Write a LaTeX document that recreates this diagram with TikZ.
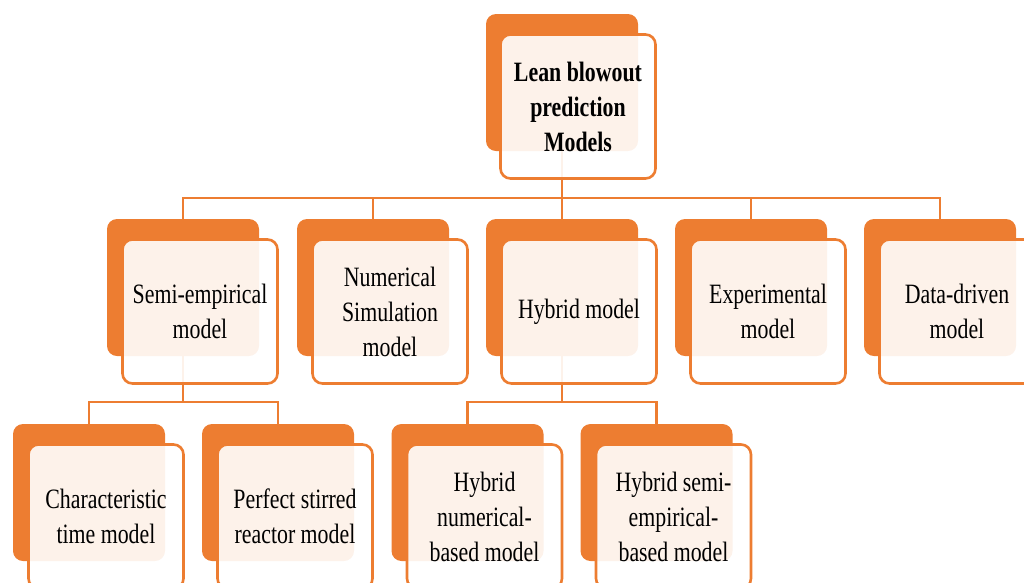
\documentclass[tikz,border=0pt]{standalone}
\usepackage{fontspec}
\setmainfont[FakeStretch=0.78]{Liberation Serif}
\definecolor{org}{HTML}{ED7D31}
\begin{document}
\begin{tikzpicture}[x=1pt,y=-1pt,
  back/.style={rectangle, rounded corners=10pt, fill=org, minimum width=152pt, minimum height=137pt, inner sep=0pt},
  front/.style={rectangle, rounded corners=10pt, draw=org, line width=2.6pt, fill=white, fill opacity=0.9, text opacity=1,
    minimum width=155pt, minimum height=144pt, align=center, font=\fontsize{28}{35}\selectfont, inner sep=0pt},
  conn/.style={draw=org, line width=2.6pt}]
\useasboundingbox (0,0) rectangle (1024,582);
\clip (0,0) rectangle (1024,582);
% back boxes
\node[back] (top-b) at (562,82.5) {};
\node[back] (semi-b) at (183,287.5) {};
\node[back] (num-b) at (373,287.5) {};
\node[back] (hyb-b) at (562,287.5) {};
\node[back] (exp-b) at (751,287.5) {};
\node[back] (data-b) at (940,287.5) {};
\node[back] (char-b) at (89,492.5) {};
\node[back] (psr-b) at (278,492.5) {};
\node[back] (hnum-b) at (467.5,492.5) {};
\node[back] (hsemi-b) at (656.5,492.5) {};
% connectors
\coordinate (bus1) at (562,198);
\coordinate (bus2) at (183,402);
\coordinate (bus3) at (562,402);
\draw[conn] (top-b.south) -- (bus1);
\draw[conn] (semi-b.north) |- (bus1) -| (data-b.north);
\draw[conn] (num-b.north) -- (num-b.north |- bus1);
\draw[conn] (hyb-b.north) -- (hyb-b.north |- bus1);
\draw[conn] (exp-b.north) -- (exp-b.north |- bus1);
\draw[conn] (semi-b.south) -- (bus2);
\draw[conn] (char-b.north) |- (bus2) -| (psr-b.north);
\draw[conn] (hyb-b.south) -- (bus3);
\draw[conn] (hnum-b.north) |- (bus3) -| (hsemi-b.north);
% front boxes
\node[front, font=\fontsize{28}{35}\selectfont\bfseries] (top) at (578,106.5) {Lean blowout\\prediction\\Models};
\node[front] (semi) at (200,311.5) {Semi-empirical\\model};
\node[front] (num) at (390,311.5) {Numerical\\Simulation\\model};
\node[front] (hyb) at (579,311.5) {Hybrid model};
\node[front] (exp) at (768,311.5) {Experimental\\model};
\node[front] (data) at (957,311.5) {Data-driven\\model};
\node[front] (char) at (106,516.5) {Characteristic\\time model};
\node[front] (psr) at (295,516.5) {Perfect stirred\\reactor model};
\node[front] (hnum) at (484.5,516.5) {Hybrid\\numerical-\\based model};
\node[front] (hsemi) at (673.5,516.5) {Hybrid semi-\\empirical-\\based model};
\end{tikzpicture}
\end{document}
